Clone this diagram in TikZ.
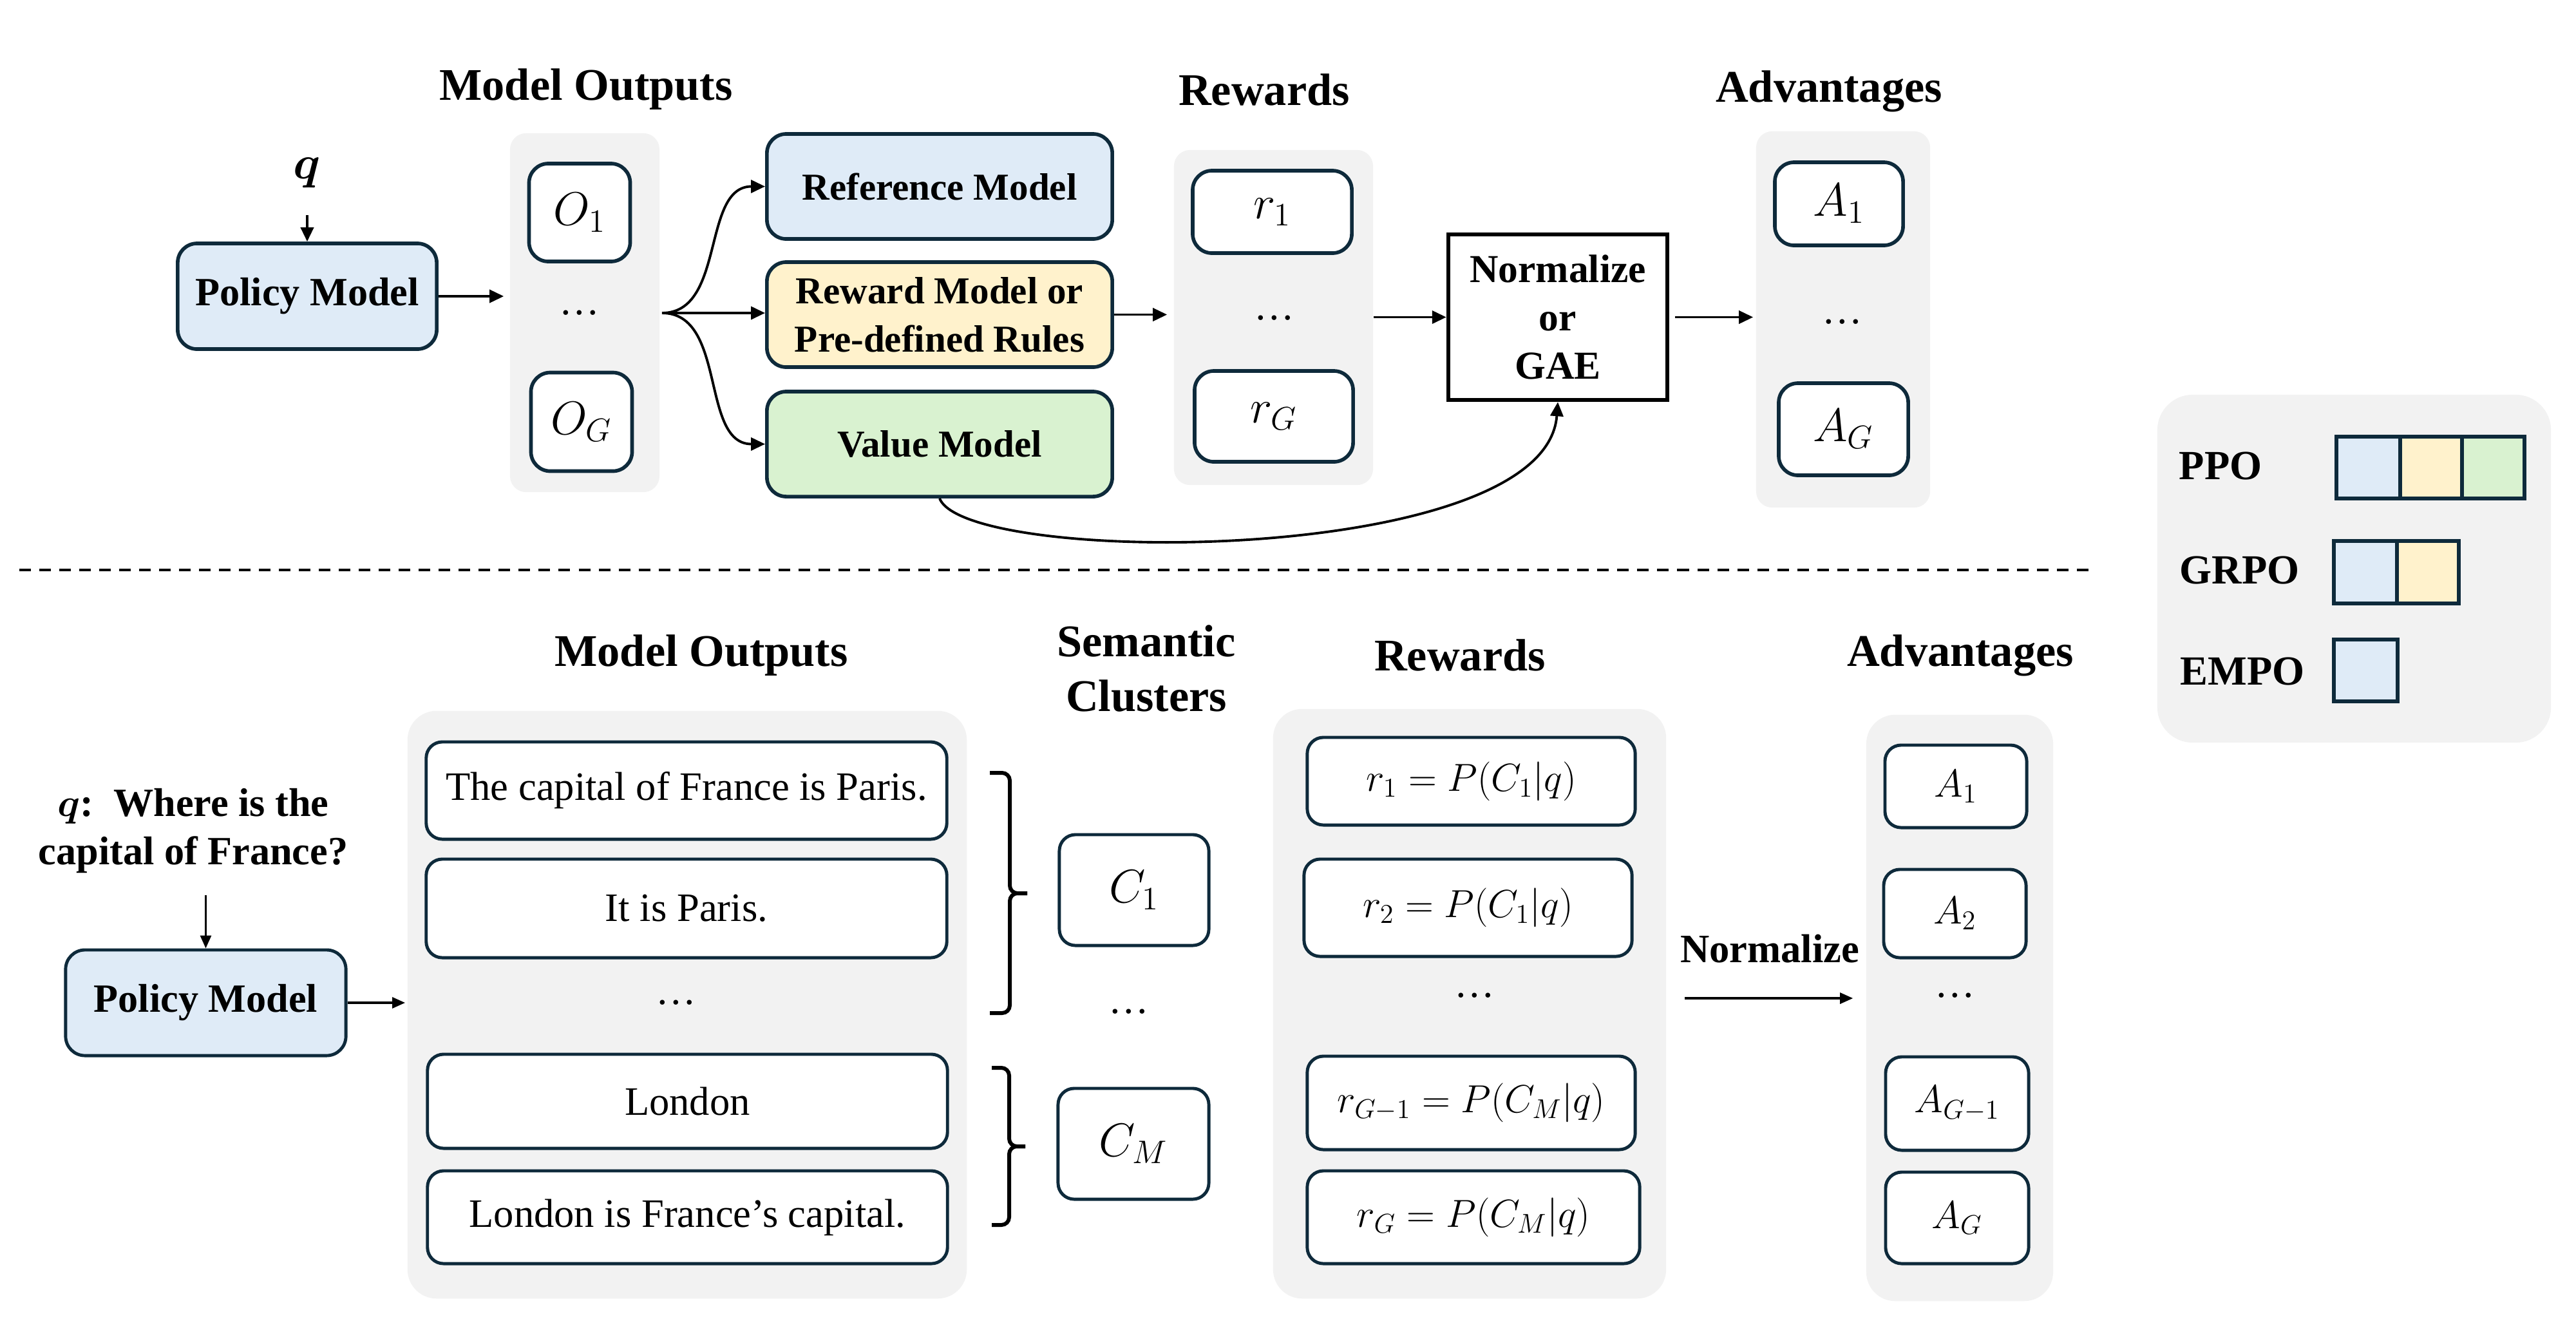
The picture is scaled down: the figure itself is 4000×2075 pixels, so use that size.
\documentclass[tikz,border=0pt]{standalone}
\usepackage{fontspec}
\setmainfont{Liberation Serif}
\usepackage{amsmath}
\usepackage{bm}
\usetikzlibrary{arrows.meta,calc}
\definecolor{navy}{HTML}{0E2A3B}
\definecolor{bluef}{HTML}{DFEBF7}
\definecolor{yelf}{HTML}{FFF2CC}
\definecolor{grnf}{HTML}{D9F2D0}
\definecolor{pgray}{HTML}{F2F2F2}
\newcommand{\fTitle}{\fontsize{20}{24}\selectfont\bfseries}
\newcommand{\fBox}{\fontsize{16.8}{21.3}\selectfont\bfseries}
\newcommand{\fBoxL}{\fontsize{17.7}{21.3}\selectfont\bfseries}
\newcommand{\fTxt}{\fontsize{17.8}{21}\selectfont}
\newcommand{\fMath}{\fontsize{19.5}{23}\selectfont}
\newcommand{\fMathL}{\fontsize{18.5}{22}\selectfont}
\newcommand{\fLeg}{\fontsize{18.3}{22}\selectfont\bfseries}
\tikzset{
  box/.style={draw=navy, fill=white, line width=1.6pt, rounded corners=0.3cm, align=center, inner sep=0pt},
  lbox/.style={draw=navy, fill=white, line width=1.4pt, rounded corners=0.25cm, align=center, inner sep=0pt},
  panel/.style={fill=pgray, rounded corners=0.25cm, inner sep=0pt},
  lpanel/.style={fill=pgray, rounded corners=0.45cm, inner sep=0pt},
  cell/.style={draw=navy, line width=1.5pt, inner sep=0pt},
  arr/.style={-{Triangle[length=0.22cm,width=0.2cm]}, line width=1.1pt},
  arrthin/.style={-{Triangle[length=0.2cm,width=0.17cm]}, line width=0.9pt},
  ttl/.style={font=\fTitle, anchor=base, inner sep=0pt},
  dotsn/.style={font=\fTxt, inner sep=0pt},
  brc/.style={line width=1.7pt, rounded corners=0.12cm},
}
\begin{document}
\begin{tikzpicture}[x=0.01cm, y=-0.01cm]
\useasboundingbox (0,0) rectangle (4000,2075);

% ================= TOP =================
\node[ttl] (t1) at (910,155) {Model Outputs};
\node[ttl] (t2) at (1963,163) {Rewards};
\node[ttl] (t3) at (2840,158) {Advantages};

\node[font=\fMath] (q) at (477,268) {$\bm{q}$};
\node[box, fill=bluef, minimum width=4.02cm, minimum height=1.64cm, font=\fBoxL] (pm) at (477,460) {Policy Model};

\node[panel, minimum width=2.32cm, minimum height=5.57cm] (panelO) at (908,485.5) {};
\node[box, minimum width=1.57cm, minimum height=1.52cm, font=\fMath] (o1) at (900,330) {$O_1$};
\node[dotsn] (odots) at (900,486) {\ldots};
\node[box, minimum width=1.57cm, minimum height=1.53cm, font=\fMath] (oG) at (903,655) {$O_G$};

\node[box, fill=bluef, minimum width=5.36cm, minimum height=1.63cm, font=\fBox] (ref) at (1459,289.5) {Reference Model};
\node[box, fill=yelf, minimum width=5.36cm, minimum height=1.63cm, font=\fBox] (rew) at (1459,488.5) {Reward Model or\\Pre-defined Rules};
\node[box, fill=grnf, minimum width=5.36cm, minimum height=1.63cm, font=\fBox] (val) at (1459,689.5) {Value Model};

\node[panel, minimum width=3.09cm, minimum height=5.2cm] (panelR) at (1977.5,493) {};
\node[box, minimum width=2.47cm, minimum height=1.28cm, font=\fMath] (r1) at (1975.5,329) {$r_1$};
\node[dotsn] (rdots) at (1979,494) {\ldots};
\node[box, minimum width=2.46cm, minimum height=1.41cm, font=\fMath] (rG) at (1978,646.5) {$r_G$};

\node[draw=black, fill=white, line width=1.8pt, minimum width=3.4cm, minimum height=2.57cm, align=center, inner sep=0pt, font=\fontsize{17.5}{21.3}\selectfont\bfseries] (norm) at (2419,492.5) {Normalize\\or\\GAE};

\node[panel, minimum width=2.7cm, minimum height=5.84cm] (panelA) at (2862,496) {};
\node[box, minimum width=1.99cm, minimum height=1.29cm, font=\fMath] (a1) at (2855.5,316.5) {$A_1$};
\node[dotsn] (adots) at (2861,500) {\ldots};
\node[box, minimum width=2.01cm, minimum height=1.43cm, font=\fMath] (aG) at (2862.5,666.5) {$A_G$};

% top connectors
\draw[arr, shorten <=0.3cm] (q.south) -- (pm.north);
\draw[arr, shorten >=0.09cm] (pm.east) -- (pm.east -| panelO.west);
\coordinate (fork) at (1028,486);
\draw[arr] (fork) to[out=0,in=180] (ref.west);
\draw[arr] (fork) -- (fork -| rew.west);
\draw[arr] (fork) to[out=0,in=180] (val.west);
\draw[arr, shorten >=0.1cm] (rew.east) -- (rew.east -| panelR.west);
\draw[arr] (panelR.east |- norm.west) -- (norm.west);
\draw[arr, shorten <=0.09cm, shorten >=0.04cm] (norm.east) -- (norm.east -| panelA.west);
\draw[arr] (val.south) .. controls (1500,880) and (2400,880) .. (norm.south);

% legend
\node[fill=pgray, rounded corners=0.55cm, minimum width=6.11cm, minimum height=5.4cm, inner sep=0pt] (leg) at (3655.5,883) {};
\node[font=\fLeg, anchor=base west, inner sep=0pt] (lppo) at (3383,744) {PPO};
\node[font=\fLeg, anchor=base west, inner sep=0pt] (lgrpo) at (3384,906) {GRPO};
\node[font=\fLeg, anchor=base west, inner sep=0pt] (lempo) at (3385,1063) {EMPO};
\node[cell, fill=bluef, minimum width=0.99cm, minimum height=0.96cm] (p1) at (3677.5,726) {};
\node[cell, fill=yelf, minimum width=0.96cm, minimum height=0.96cm] (p2) at (3775,726) {};
\node[cell, fill=grnf, minimum width=0.97cm, minimum height=0.96cm] (p3) at (3871.5,726) {};
\node[cell, fill=bluef, minimum width=0.98cm, minimum height=0.97cm] (g1) at (3673,888.5) {};
\node[cell, fill=yelf, minimum width=0.96cm, minimum height=0.97cm] (g2) at (3770,888.5) {};
\node[cell, fill=bluef, minimum width=0.99cm, minimum height=0.96cm] (e1) at (3673.5,1041) {};

% dashed separator
\coordinate (dl) at (30,885);
\coordinate (dr) at (3245,885);
\draw[dash pattern=on 0.18cm off 0.13cm, line width=0.9pt] (dl) -- (dr);

% ================= BOTTOM =================
\node[ttl] (b1) at (1089,1034) {Model Outputs};
\node[font=\fTitle, anchor=base, inner sep=0pt, align=center] (b2) at (1780,1104) {Semantic\\Clusters};
\node[ttl] (b3) at (2267,1041) {Rewards};
\node[ttl] (b4) at (3044,1034) {Advantages};

\node[font=\fBoxL, align=center, inner sep=0pt] (lq) at (300,1290) {$\bm{q}$:~~Where is the\\capital of France?};
\node[box, line width=1.4pt, fill=bluef, minimum width=4.35cm, minimum height=1.64cm, font=\fBoxL] (lpm) at (319.5,1557) {Policy Model};

\node[lpanel, minimum width=8.68cm, minimum height=9.12cm] (lpanelO) at (1067,1560) {};
\node[lbox, minimum width=8.08cm, minimum height=1.51cm, font=\fTxt] (out1) at (1066,1227.5) {The capital of France is Paris.};
\node[lbox, minimum width=8.08cm, minimum height=1.53cm, font=\fTxt] (out2) at (1066,1410.5) {It is Paris.};
\node[dotsn] (ldots) at (1050,1557) {\ldots};
\node[lbox, minimum width=8.07cm, minimum height=1.46cm, font=\fTxt] (out3) at (1067.5,1710) {London};
\node[lbox, minimum width=8.07cm, minimum height=1.44cm, font=\fTxt] (out4) at (1067.5,1890) {London is France’s capital.};

% braces
\coordinate (br1t) at (1537,1200);
\coordinate (br1m) at (1595,1387);
\coordinate (br1b) at (1537,1573);
\draw[brc] (br1t) -- (1568,1200) -- (1568,1387) -- (br1m);
\draw[brc] (br1m) -- (1568,1387) -- (1568,1573) -- (br1b);
\coordinate (br2t) at (1540,1658);
\coordinate (br2m) at (1592,1780);
\coordinate (br2b) at (1540,1902);
\draw[brc] (br2t) -- (1567,1658) -- (1567,1780) -- (br2m);
\draw[brc] (br2m) -- (1567,1780) -- (1567,1902) -- (br2b);

\node[lbox, minimum width=2.32cm, minimum height=1.72cm, font=\fMath] (c1) at (1761,1382) {$C_1$};
\node[dotsn] (cdots) at (1753,1571) {\ldots};
\node[lbox, minimum width=2.34cm, minimum height=1.72cm, font=\fMath] (cM) at (1760,1776) {$C_M$};

\node[lpanel, minimum width=6.1cm, minimum height=9.15cm] (lpanelR) at (2282,1558.5) {};
\node[lbox, minimum width=5.09cm, minimum height=1.36cm, font=\fMathL] (lr1) at (2284.5,1213) {$r_1 = P(C_1|q)$};
\node[lbox, minimum width=5.09cm, minimum height=1.51cm, font=\fMathL] (lr2) at (2279.5,1409.5) {$r_2 = P(C_1|q)$};
\node[dotsn] (lrdots) at (2290,1546) {\ldots};
\node[lbox, minimum width=5.09cm, minimum height=1.45cm, font=\fMathL] (lr3) at (2284.5,1712.5) {$r_{G-1} = P(C_M|q)$};
\node[lbox, minimum width=5.16cm, minimum height=1.44cm, font=\fMathL] (lr4) at (2288,1890) {$r_G = P(C_M|q)$};

\node[font=\fontsize{17.8}{21}\selectfont\bfseries, anchor=base, inner sep=0pt] (lnorm) at (2748,1494) {Normalize};
\coordinate (nstart) at (2616,1550);

\node[lpanel, minimum width=2.9cm, minimum height=9.1cm] (lpanelA) at (3043,1565) {};
\node[lbox, minimum width=2.2cm, minimum height=1.28cm, font=\fMathL] (la1) at (3037,1221) {$A_1$};
\node[lbox, minimum width=2.21cm, minimum height=1.37cm, font=\fMathL] (la2) at (3035.5,1418.5) {$A_2$};
\node[dotsn] (ladots) at (3036,1546) {\ldots};
\node[lbox, minimum width=2.22cm, minimum height=1.45cm, font=\fMathL] (la3) at (3039,1713.5) {$A_{G-1}$};
\node[lbox, minimum width=2.22cm, minimum height=1.42cm, font=\fMathL] (la4) at (3039,1891) {$A_G$};

% bottom connectors
\draw[arrthin, shorten <=0.34cm] (lpm.north |- lq.south) -- (lpm.north);
\draw[arrthin, shorten >=0.03cm] (lpm.east) -- (lpm.east -| lpanelO.west);
\draw[arrthin, shorten >=0.2cm] (nstart) -- (nstart -| lpanelA.west);
\end{tikzpicture}
\end{document}
